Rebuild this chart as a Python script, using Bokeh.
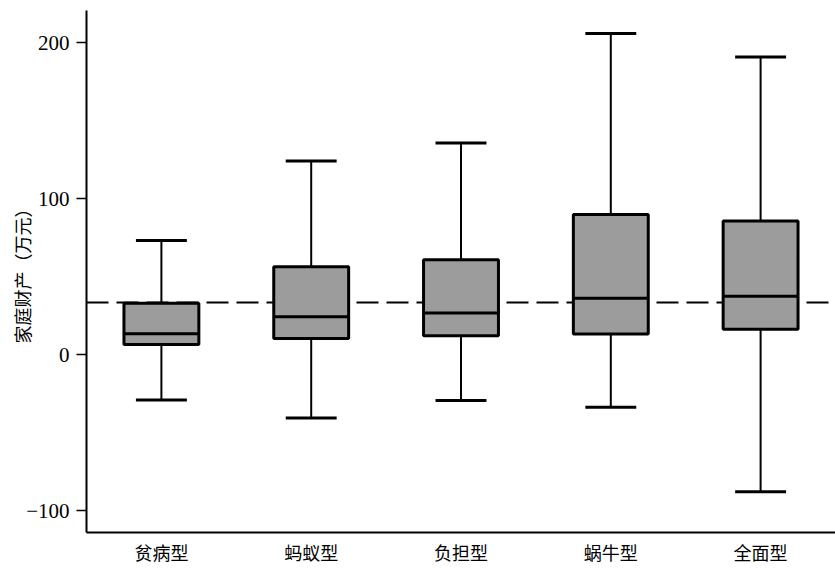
from bokeh.plotting import figure
from bokeh.models import Range1d, FixedTicker, Span, ColumnDataSource
from bokeh.embed import file_html
from bokeh.resources import INLINE
import numpy as np

# data
categories = ["贫病型", "蚂蚁型", "负担型", "蜗牛型", "全面型"]
whisker_low = [-29, -40.5, -29.3, -33.7, -87.8]
q1 = [6.6, 10.5, 12.2, 13.3, 16.3]
median = [13.5, 24.3, 26.8, 36.2, 37.5]
q3 = [33.0, 56.4, 61.0, 90.0, 85.8]
whisker_high = [73.3, 124.2, 135.8, 206.1, 191.0]
reference_value = 33.5
y_ticks = [-100, 0, 100, 200]

xs = np.arange(len(categories)) + 0.5
box_w = 0.5
cap_w = 0.34

p = figure(frame_width=749, frame_height=522, output_backend="svg", toolbar_location=None,
           x_range=Range1d(0, len(categories)), y_range=Range1d(-114.0, 220.8),
           min_border_left=86, min_border_top=10, min_border_right=0, min_border_bottom=34)
p.outline_line_color = None
p.xgrid.visible = False
p.ygrid.visible = False
p.background_fill_color = "white"
p.border_fill_color = "white"

ref = Span(location=reference_value, dimension="width", line_color="black",
           line_width=2, line_dash="22 8", level="underlay")
p.add_layout(ref)

src = ColumnDataSource(dict(x=xs, lo=whisker_low, q1=q1, med=median, q3=q3, hi=whisker_high,
                            xl=xs - box_w / 2, xr=xs + box_w / 2,
                            cl=xs - cap_w / 2, cr=xs + cap_w / 2))

# whiskers
p.segment(x0="x", y0="lo", x1="x", y1="q1", source=src, line_color="black", line_width=2)
p.segment(x0="x", y0="q3", x1="x", y1="hi", source=src, line_color="black", line_width=2)
# caps
p.segment(x0="cl", y0="lo", x1="cr", y1="lo", source=src, line_color="black", line_width=3)
p.segment(x0="cl", y0="hi", x1="cr", y1="hi", source=src, line_color="black", line_width=3)
# boxes
p.vbar(x="x", width=box_w, bottom="q1", top="q3", source=src,
       fill_color="#9c9c9c", line_color="black", line_width=3)
# medians
p.segment(x0="xl", y0="med", x1="xr", y1="med", source=src, line_color="black", line_width=3)

# axes
p.xaxis.ticker = FixedTicker(ticks=list(xs))
p.xaxis.major_label_overrides = {float(x): c for x, c in zip(xs, categories)}
p.xaxis.major_tick_line_color = None
p.xaxis.minor_tick_line_color = None
p.xaxis.major_tick_out = 0
p.xaxis.major_label_standoff = 6
p.xaxis.major_label_text_font = "Noto Sans CJK SC"
p.xaxis.major_label_text_font_size = "18px"
p.xaxis.major_label_text_color = "black"
p.xaxis.axis_line_width = 2
p.xaxis.axis_line_color = "black"

p.yaxis.ticker = FixedTicker(ticks=y_ticks)
p.yaxis.major_label_overrides = {t: (str(t).replace("-", "\u2212")) for t in y_ticks}
p.yaxis.minor_tick_line_color = None
p.yaxis.major_tick_out = 10
p.yaxis.major_tick_in = 0
p.yaxis.major_tick_line_width = 1.5
p.yaxis.major_tick_line_color = "black"
p.yaxis.major_label_standoff = 7
p.yaxis.major_label_text_font = "Liberation Serif"
p.yaxis.major_label_text_font_size = "21px"
p.yaxis.major_label_text_color = "black"
p.yaxis.axis_line_width = 2
p.yaxis.axis_line_color = "black"
p.yaxis.axis_label = "家庭财产（万元）"
p.yaxis.axis_label_text_font = "Noto Sans CJK SC"
p.yaxis.axis_label_text_font_style = "normal"
p.yaxis.axis_label_text_font_size = "18px"
p.yaxis.axis_label_text_color = "black"
p.yaxis.axis_label_standoff = -12

open("out.html", "w").write(file_html(p, INLINE))
